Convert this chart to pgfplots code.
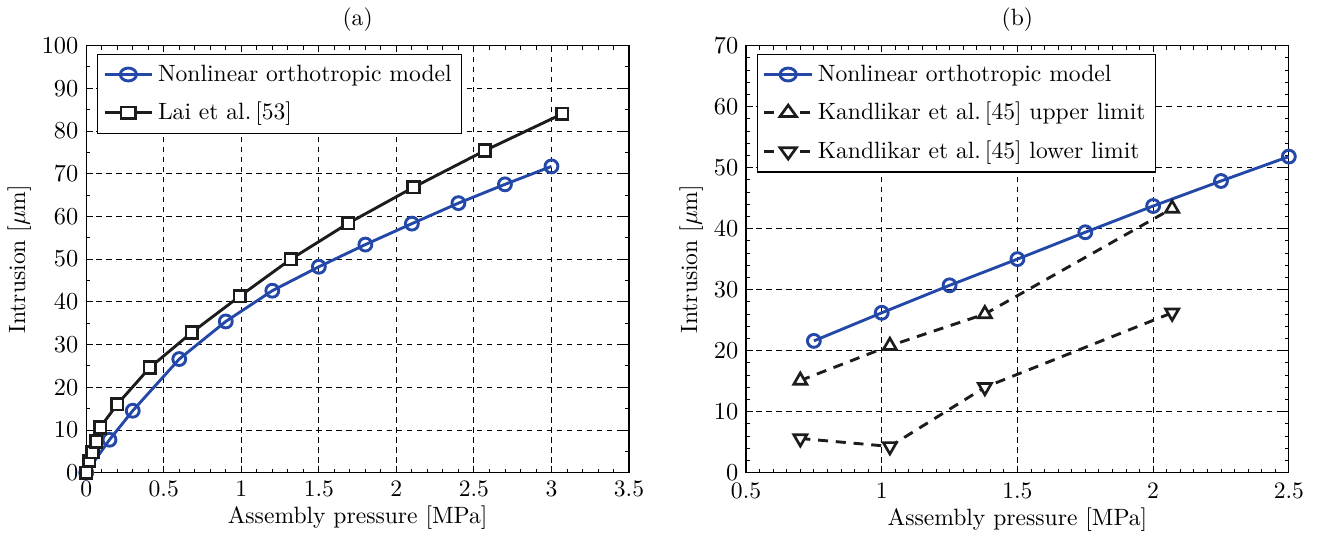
\documentclass[border=0pt]{standalone}
\usepackage{pgfplots}
\pgfplotsset{compat=1.18}
\definecolor{mblue}{RGB}{35,72,168}
\definecolor{mblack}{RGB}{28,28,28}
\newcommand{\ffont}{\fontsize{10.6}{12.5}\selectfont}
\pgfplotsset{
  mystyle/.style={
    scale only axis, width=244pt, height=192pt,
    grid=major,
    major grid style={black, line width=0.4pt, dash pattern=on 2.5pt off 2pt},
    tick align=inside,
    xtick pos=both, ytick pos=both,
    major tick length=3pt, minor tick length=1.8pt,
    every tick/.style={black, line width=0.4pt},
    axis line style={black, line width=0.5pt},
    tick label style={font=\ffont},
    label style={font=\ffont},
    title style={font=\ffont, yshift=-3pt},
    legend cell align=left,
    legend style={at={(0.02,0.98)}, anchor=north west, draw=black, line width=0.5pt,
      inner sep=2.5pt, row sep=4pt, font=\ffont},
    legend image post style={xscale=1.25},
    xlabel={Assembly pressure [MPa]},
    ylabel={Intrusion [$\mu$m]},
    xlabel style={yshift=3pt},
    ylabel style={yshift=-2pt},
  },
  blueline/.style={color=mblue, line width=1.3pt, mark=o, mark size=2.9pt,
    mark options={solid, fill=white, line width=1.3pt}},
}
\begin{document}
\begin{tikzpicture}
\begin{axis}[mystyle, title={(a)},
  xmin=0, xmax=3.5, ymin=0, ymax=100,
  xtick={0,0.5,...,3.5}, ytick={0,10,...,100},
  xticklabels={0,0.5,1,1.5,2,2.5,3,3.5},
  minor x tick num=4, minor y tick num=1]
\addplot[blueline] coordinates {
(0,0) (0.15,7.7) (0.3,14.5) (0.6,26.6) (0.9,35.4) (1.2,42.6) (1.5,48.2)
(1.8,53.4) (2.1,58.3) (2.4,63.1) (2.7,67.5) (3.0,71.7)};
\addlegendentry{Nonlinear orthotropic model}
\addplot[color=mblack, line width=1.3pt, mark=square*, mark size=2.6pt,
  mark options={solid, fill=white, line width=1.2pt}] coordinates {
(0,0) (0.02,2.8) (0.04,4.8) (0.065,7.3) (0.09,10.6) (0.2,16.0) (0.41,24.6)
(0.68,32.8) (0.99,41.3) (1.32,50.0) (1.69,58.4) (2.11,66.8) (2.57,75.4) (3.07,84.0)};
\addlegendentry{Lai et al.\,[53]}
\end{axis}
\begin{axis}[mystyle, title={(b)}, xshift=296.6pt,
  xmin=0.5, xmax=2.5, ymin=0, ymax=70,
  xtick={0.5,1,1.5,2,2.5}, ytick={0,10,...,70},
  xticklabels={0.5,1,1.5,2,2.5},
  xticklabel style={yshift=-1pt},
  minor x tick num=9, minor y tick num=4]
\addplot[blueline] coordinates {
(0.75,21.6) (1.0,26.2) (1.25,30.7) (1.5,35.0) (1.75,39.4) (2.0,43.7) (2.25,47.8) (2.5,51.8)};
\addlegendentry{Nonlinear orthotropic model}
\addplot[color=mblack, line width=1.3pt, dash pattern=on 4.5pt off 3.5pt, mark=triangle*, mark size=3.4pt,
  mark options={solid, fill=white, line width=1.2pt}] coordinates {
(0.70,15.1) (1.03,20.8) (1.38,26.0) (2.07,43.3)};
\addlegendentry{Kandlikar et al.\,[45] upper limit}
\addplot[color=mblack, line width=1.3pt, dash pattern=on 4.5pt off 3.5pt, mark=triangle*, mark size=3.4pt,
  mark options={solid, fill=white, line width=1.2pt, rotate=180}] coordinates {
(0.70,5.6) (1.03,4.3) (1.38,14.0) (2.07,26.2)};
\addlegendentry{Kandlikar et al.\,[45] lower limit}
\end{axis}
\path ([xshift=12pt]current bounding box.east);
\end{tikzpicture}
\end{document}
